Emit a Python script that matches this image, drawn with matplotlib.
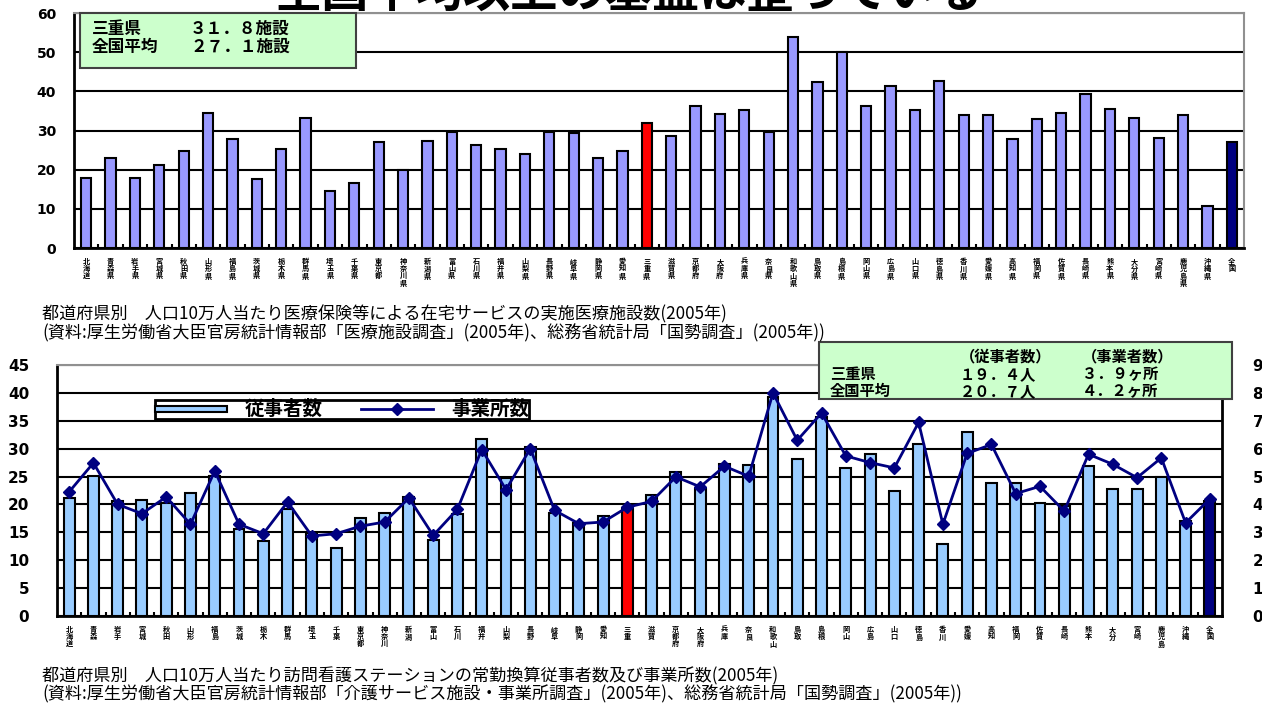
import matplotlib.pyplot as plt
import numpy as np
from matplotlib.patches import Rectangle
from matplotlib.lines import Line2D
from matplotlib.legend_handler import HandlerPatch

plt.rcParams["font.family"] = ["Noto Sans CJK JP", "DejaVu Sans"]

# Prefecture labels (top chart with suffix, bottom chart short form)
top_labels = [
    "北海道", "青森県", "岩手県", "宮城県", "秋田県", "山形県", "福島県", "茨城県",
    "栃木県", "群馬県", "埼玉県", "千葉県", "東京都", "神奈川県", "新潟県", "富山県",
    "石川県", "福井県", "山梨県", "長野県", "岐阜県", "静岡県", "愛知県", "三重県",
    "滋賀県", "京都府", "大阪府", "兵庫県", "奈良県", "和歌山県", "鳥取県", "島根県",
    "岡山県", "広島県", "山口県", "徳島県", "香川県", "愛媛県", "高知県", "福岡県",
    "佐賀県", "長崎県", "熊本県", "大分県", "宮崎県", "鹿児島県", "沖縄県", "全国",
]
bottom_labels = [
    "北海道", "青森", "岩手", "宮城", "秋田", "山形", "福島", "茨城",
    "栃木", "群馬", "埼玉", "千葉", "東京都", "神奈川", "新潟", "富山",
    "石川", "福井", "山梨", "長野", "岐阜", "静岡", "愛知", "三重",
    "滋賀", "京都府", "大阪府", "兵庫", "奈良", "和歌山", "鳥取", "島根",
    "岡山", "広島", "山口", "徳島", "香川", "愛媛", "高知", "福岡",
    "佐賀", "長崎", "熊本", "大分", "宮崎", "鹿児島", "沖縄", "全国",
]

# Home-care medical facilities per 100k population
facilities = [
    17.9, 23.0, 17.9, 21.3, 24.7, 34.5, 27.8, 17.6, 25.4, 33.2,
    14.5, 16.6, 27.0, 19.8, 27.3, 29.6, 26.4, 25.4, 24.1, 29.5,
    29.4, 23.0, 24.7, 31.8, 28.5, 36.3, 34.2, 35.3, 29.5, 53.9,
    42.4, 50.0, 36.3, 41.3, 35.3, 42.7, 33.9, 33.9, 27.8, 32.9,
    34.5, 39.3, 35.6, 33.2, 28.1, 33.9, 10.6, 27.1,
]

# Visiting nurse stations: staff (left axis) and offices (right axis)
staff = [
    21.1, 25.1, 20.6, 20.8, 20.2, 22.0, 25.1, 15.6, 13.4, 19.1,
    14.8, 12.2, 17.5, 18.4, 21.4, 13.6, 18.2, 31.8, 24.8, 30.3,
    18.5, 16.7, 18.0, 19.4, 21.7, 25.9, 22.7, 27.3, 27.0, 39.3,
    28.1, 35.7, 26.6, 29.0, 22.4, 30.8, 12.9, 33.0, 23.8, 23.9,
    20.3, 19.7, 26.9, 22.7, 22.7, 25.0, 17.0, 20.7,
]
offices = [
    4.45, 5.49, 4.00, 3.67, 4.27, 3.29, 5.20, 3.29, 2.95, 4.09,
    2.87, 2.95, 3.22, 3.37, 4.23, 2.89, 3.83, 5.97, 4.53, 6.00,
    3.79, 3.31, 3.37, 3.90, 4.11, 4.99, 4.63, 5.37, 5.01, 8.00,
    6.30, 7.28, 5.74, 5.50, 5.31, 6.94, 3.29, 5.83, 6.15, 4.39,
    4.65, 3.76, 5.80, 5.44, 4.96, 5.67, 3.34, 4.20,
]

mie_idx = top_labels.index("三重県")
nat_idx = len(top_labels) - 1

W, H = 1262, 705
fig = plt.figure(figsize=(W / 100, H / 100), dpi=100)


def px_axes(l, t, r, b):
    return fig.add_axes([l / W, 1 - b / H, (r - l) / W, (b - t) / H])


def bar_colors(base):
    cols = [base] * len(top_labels)
    cols[mie_idx] = "#FF0000"
    cols[nat_idx] = "#000080"
    return cols


def style_axis(ax, labels, fs_y, pad_y):
    x = np.arange(len(labels))
    ax.set_xlim(-0.5, len(labels) - 0.5)
    ax.set_xticks(x)
    ax.set_xticklabels(["\n".join(s) for s in labels], fontsize=5.2,
                       linespacing=1.05, va="top", fontweight="bold")
    ax.set_xticks(x[:-1] + 0.5, minor=True)
    ax.tick_params(axis="x", which="major", length=0, pad=7)
    ax.tick_params(axis="x", which="minor", direction="in", length=3, width=1.5)
    ax.tick_params(axis="y", direction="in", length=4, width=1.2, pad=pad_y)
    for lbl in ax.get_yticklabels():
        lbl.set_fontweight("bold")
        lbl.set_fontsize(fs_y)
        lbl.set_family("DejaVu Sans")
    ax.yaxis.grid(True, color="black", linewidth=1.5)
    ax.set_axisbelow(True)
    for side in ["left", "bottom"]:
        ax.spines[side].set_linewidth(2)
        ax.spines[side].set_color("black")
    ax.spines["top"].set_color("#909090")
    ax.spines["top"].set_linewidth(1.5)


# ---- top chart ----
ax1 = px_axes(74, 13, 1244, 248)
x = np.arange(len(top_labels))
ax1.bar(x, facilities, width=0.42, color=bar_colors("#9999FF"),
        edgecolor="black", linewidth=1.5, zorder=3)
ax1.set_ylim(0, 60)
ax1.set_yticks(range(0, 61, 10))
style_axis(ax1, top_labels, 10, 13)
ax1.spines["right"].set_color("#909090")
ax1.spines["right"].set_linewidth(1.5)

# ---- bottom chart ----
ax2 = px_axes(57, 365, 1222, 616)
ax2.bar(x, staff, width=0.45, color=bar_colors("#99CCFF"),
        edgecolor="black", linewidth=1.5, zorder=3)
ax2.set_ylim(0, 45)
ax2.set_yticks(range(0, 46, 5))
style_axis(ax2, bottom_labels, 11, 20)
ax2.spines["right"].set_color("black")
ax2.spines["right"].set_linewidth(2)

ax2b = ax2.twinx()
ax2b.plot(x, offices, color="#000080", linewidth=2, marker="D",
          markersize=6, zorder=4)
ax2b.set_ylim(0, 9)
ax2b.set_yticks(range(0, 10))
ax2b.tick_params(axis="y", length=0, pad=22)
for lbl in ax2b.get_yticklabels():
    lbl.set_fontweight("bold")
    lbl.set_fontsize(11)
    lbl.set_family("DejaVu Sans")
for s in ax2b.spines.values():
    s.set_visible(False)


def thin_rect(legend, orig_handle, xdescent, ydescent, width, height, fontsize):
    return Rectangle((-xdescent, -ydescent + height * 0.2), width, height * 0.45)


handles = [
    Rectangle((0, 0), 1, 1, facecolor="#99CCFF", edgecolor="black", linewidth=1.5),
    Line2D([], [], color="#000080", linewidth=2, marker="D", markersize=6),
]
leg = ax2b.legend(handles, ["従事者数", "事業所数"], ncol=2, loc="upper left",
                  bbox_to_anchor=(155 / W, 1 - 400 / H), bbox_transform=fig.transFigure,
                  prop={"size": 14, "weight": "bold"}, handlelength=3.7,
                  handletextpad=0.9, columnspacing=2.0, borderpad=0.0,
                  borderaxespad=0, handleheight=0.6,
                  fancybox=False, framealpha=1, edgecolor="black",
                  handler_map={Rectangle: HandlerPatch(patch_func=thin_rect)})
leg.get_frame().set_linewidth(2)

# ---- green info boxes ----
def green_box(l, t, r, b):
    fig.add_artist(Rectangle((l / W, 1 - b / H), (r - l) / W, (b - t) / H,
                             transform=fig.transFigure, facecolor="#CCFFCC",
                             edgecolor="#404040", linewidth=1.5, zorder=5))


def ftext(px, py, s, **kw):
    fig.text(px / W, 1 - py / H, s, va="center", ha="left", zorder=6, **kw)


green_box(80, 13, 356, 68)
ftext(92, 29, "三重県", fontsize=12, fontweight="bold")
ftext(190, 29, "３１．８施設", fontsize=12, fontweight="bold")
ftext(92, 47, "全国平均", fontsize=12, fontweight="bold")
ftext(190, 47, "２７．１施設", fontsize=12, fontweight="bold")

green_box(819, 342, 1232, 399)
ftext(960, 356, "（従事者数）", fontsize=11, fontweight="bold")
ftext(1082, 356, "（事業者数）", fontsize=11, fontweight="bold")
ftext(830, 374, "三重県", fontsize=11, fontweight="bold")
ftext(960, 374, "１９．４人", fontsize=11, fontweight="bold")
ftext(1082, 374, "３．９ヶ所", fontsize=11, fontweight="bold")
ftext(830, 391, "全国平均", fontsize=11, fontweight="bold")
ftext(960, 391, "２０．７人", fontsize=11, fontweight="bold")
ftext(1082, 391, "４．２ヶ所", fontsize=11, fontweight="bold")

# ---- captions and clipped title ----
ftext(42, 314, "都道府県別　人口10万人当たり医療保険等による在宅サービスの実施医療施設数(2005年)", fontsize=12.3)
ftext(42, 333, "(資料:厚生労働省大臣官房統計情報部「医療施設調査」(2005年)、総務省統計局「国勢調査」(2005年))", fontsize=12.3)
ftext(42, 676, "都道府県別　人口10万人当たり訪問看護ステーションの常勤換算従事者数及び事業所数(2005年)", fontsize=12.3)
ftext(42, 694, "(資料:厚生労働省大臣官房統計情報部「介護サービス施設・事業所調査」(2005年)、総務省統計局「国勢調査」(2005年))", fontsize=12.3)

fig.text(628 / W, 1 - 7 / H, "全国平均以上の基盤は整っている", fontsize=34,
         fontweight="bold", ha="center", va="baseline")

fig.savefig("out.png", dpi=100)
